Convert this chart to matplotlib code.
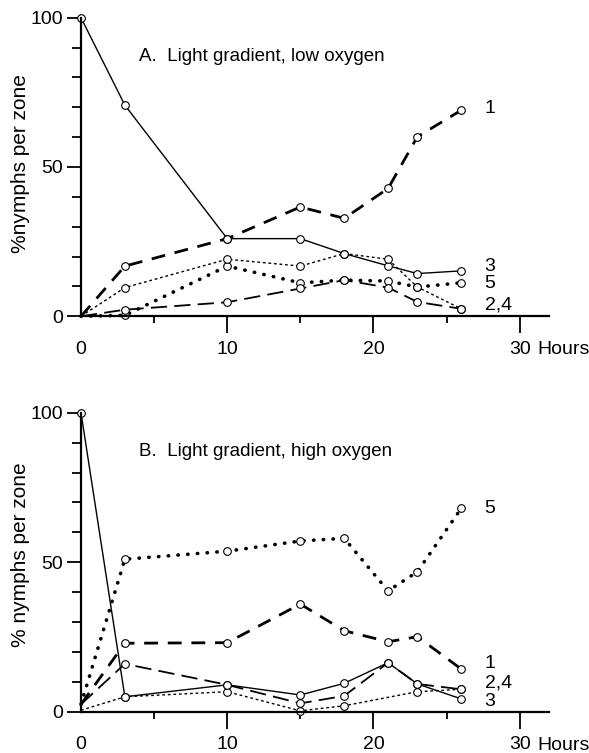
import numpy as np
import matplotlib
matplotlib.use('Agg')
import matplotlib.pyplot as plt
from matplotlib.ticker import MultipleLocator

plt.rcParams['font.family'] = ['Liberation Sans Narrow', 'Liberation Sans', 'DejaVu Sans']

# sampling times (hours)
hours = [0, 3, 10, 15, 18, 21, 23, 26]
hours_b_fine = [0, 3, 10, 15, 18, 23, 26]

# A. light gradient, low oxygen (% nymphs per zone)
a_zone1 = [0, 16.8, 26.0, 36.6, 32.8, 42.8, 60.1, 69.0]
a_zone3 = [100, 70.7, 26.0, 26.0, 21.0, 16.9, 14.3, 15.2]
a_zone5 = [0, 0.3, 16.8, 11.2, 12.1, 11.8, 9.8, 11.2]
a_fine = [0, 9.6, 19.1, 16.8, 21.0, 19.1, 9.8, 2.5]
a_long = [0, 2.2, 4.7, 9.3, 12.1, 9.6, 4.8, 2.5]

# B. light gradient, high oxygen
b_zone1 = [2.5, 22.9, 23.1, 36.0, 27.1, 23.4, 25.1, 14.3]
b_zone3 = [100, 5.0, 9.0, 5.6, 9.5, 16.4, 9.3, 4.3]
b_zone5 = [2.5, 51.0, 53.7, 57.1, 58.0, 40.4, 46.8, 68.0]
b_long = [2.5, 16.0, 9.0, 2.8, 5.3, 16.4, 9.3, 7.5]
b_fine = [0.5, 5.0, 6.7, 0.3, 2.0, 6.7, 7.5]

titles = ['A.  Light gradient, low oxygen', 'B.  Light gradient, high oxygen']
ylabels = ['%nymphs per zone', '% nymphs per zone']
label_y = [0.51, 0.525]

fig = plt.figure(figsize=(5.89, 7.53), dpi=100)
ax_a = fig.add_axes([0.1375, 0.580, 0.7945, 0.3965])
ax_b = fig.add_axes([0.1375, 0.0548, 0.7945, 0.3971])

mk = dict(marker='o', markersize=5.5, markerfacecolor='white',
          markeredgecolor='black', markeredgewidth=0.8, color='black', clip_on=False)


def draw_lines(ax, z1, z3, z5, fine, long_, fine_hours):
    ax.plot(hours, z3, lw=1.0, linestyle='-', markevery=slice(0, None), **mk)
    ax.plot(hours, z1, lw=2.0, linestyle=(0, (5, 3.5)), markevery=slice(1, None), **mk)
    ax.plot(hours, z5, lw=2.6, linestyle=(0, (0.1, 2.6)), dash_capstyle='round',
            markevery=slice(1, None), **mk)
    ax.plot(fine_hours, fine, lw=1.0, linestyle=(0, (2, 2)), markevery=slice(1, None), **mk)
    ax.plot(hours, long_, lw=1.3, linestyle=(0, (9, 4)), markevery=slice(1, None), **mk)


draw_lines(ax_a, a_zone1, a_zone3, a_zone5, a_fine, a_long, hours)
draw_lines(ax_b, b_zone1, b_zone3, b_zone5, b_fine, b_long, hours_b_fine)

for i, ax in enumerate([ax_a, ax_b]):
    ax.set_xlim(0, 32)
    ax.set_ylim(0, 100)
    for s in ['top', 'right']:
        ax.spines[s].set_visible(False)
    ax.spines['left'].set_linewidth(1.6)
    ax.spines['bottom'].set_linewidth(1.6)
    ax.set_xticks([0, 10, 20, 30])
    ax.set_xticklabels(['0', '10', '20', '30'])
    ax.xaxis.set_minor_locator(MultipleLocator(5))
    ax.set_yticks([0, 50, 100])
    ax.yaxis.set_minor_locator(MultipleLocator(10))
    ax.tick_params(axis='x', which='major', length=12, width=1.3, pad=5.5, labelsize=14)
    ax.tick_params(axis='x', which='minor', length=5, width=1.3)
    ax.tick_params(axis='y', which='major', length=10, width=1.3, pad=3, labelsize=14)
    ax.tick_params(axis='y', which='minor', length=6.5, width=1.3)
    ax.xaxis.get_major_ticks()[0].tick1line.set_visible(False)
    ax.set_ylabel(ylabels[i], fontsize=15)
    ax.yaxis.set_label_coords(-0.109, label_y[i])
    ax.text(3.96, 87, titles[i], fontsize=13.5, va='center', ha='left')
    ax.text(31.2, -11.2, 'Hours', fontsize=14, va='center', ha='left', clip_on=False)

# zone labels at the line ends
ax_a.text(27.6, 69.5, '1', fontsize=14, va='center')
ax_a.text(27.6, 16.5, '3', fontsize=14, va='center')
ax_a.text(27.6, 11.0, '5', fontsize=14, va='center')
ax_a.text(27.6, 3.7, '2,4', fontsize=14, va='center')

ax_b.text(27.6, 68.1, '5', fontsize=14, va='center')
ax_b.text(27.6, 16.2, '1', fontsize=14, va='center')
ax_b.text(27.6, 9.5, '2,4', fontsize=14, va='center')
ax_b.text(27.6, 3.3, '3', fontsize=14, va='center')

plt.savefig('out.png', dpi=100)
